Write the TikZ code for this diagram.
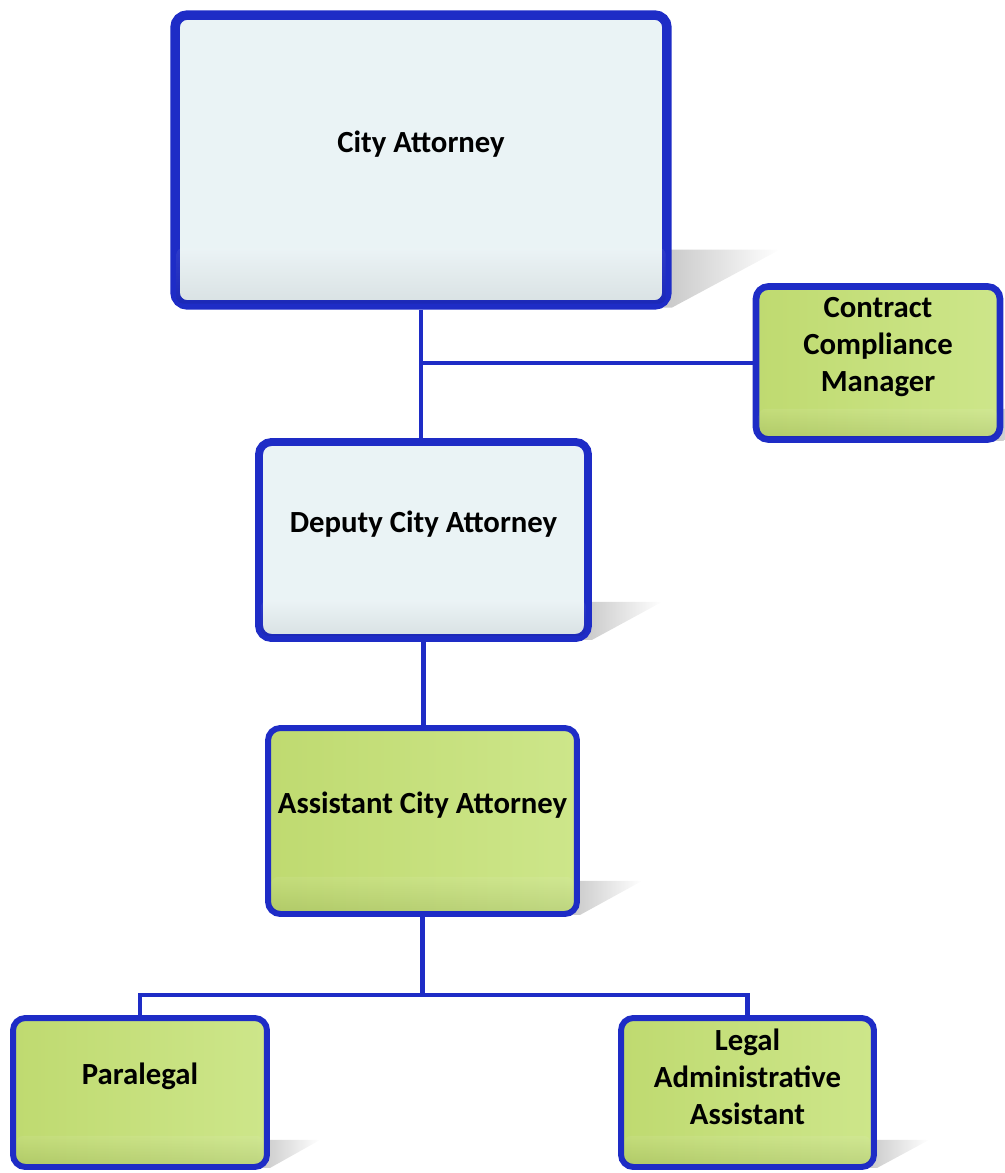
\documentclass[tikz,border=0pt]{standalone}
\usepackage{fontspec}
\setmainfont{Carlito}
\usetikzlibrary{calc,positioning}

\definecolor{cBoxBlue}{HTML}{1E2CC6}
\definecolor{cPaleFill}{HTML}{EAF3F5}
\definecolor{cGreenDark}{HTML}{BFDA70}
\definecolor{cGreenLight}{HTML}{CDE68A}

\pgfdeclarelayer{background}
\pgfsetlayers{background,main}

\tikzset{
    orgbox/.style={draw=cBoxBlue, rounded corners=7, inner sep=0pt},
    palebox/.style={orgbox, fill=cPaleFill},
    greenbox/.style={orgbox, left color=cGreenDark, right color=cGreenLight},
    boxtext/.style={font=\fontsize{17.5}{21}\selectfont\bfseries, align=center, inner sep=0pt},
    linkline/.style={draw=cBoxBlue, line width=2.8pt}
}

\begin{document}
\begin{tikzpicture}[x=0.02cm, y=-0.02cm]

    \useasboundingbox (0,0) rectangle (1004,1173);
    \clip (0,0) rectangle (1004,1173);

    % boxes
    \node[palebox, line width=5.4pt, minimum width=9.84cm, minimum height=5.8cm] (ca) at (421,160) {};
    \node[greenbox, line width=3.8pt, minimum width=4.88cm, minimum height=3.06cm] (ccm) at (878,363) {};
    \node[palebox, line width=4.5pt, minimum width=6.58cm, minimum height=3.92cm] (dca) at (423.5,540) {};
    \node[greenbox, line width=3.4pt, minimum width=6.18cm, minimum height=3.72cm] (aca) at (422.5,821) {};
    \node[greenbox, line width=3.4pt, minimum width=5.08cm, minimum height=2.98cm] (para) at (140,1092.5) {};
    \node[greenbox, line width=3.4pt, minimum width=5.06cm, minimum height=2.98cm] (laa) at (747.5,1092.5) {};

    % darker band at the foot of each box
    \foreach \v/\dd in {ca/62, dca/42, ccm/34, aca/40, para/34, laa/34}
    {
        \shade[top color=white, bottom color=black, opacity=0.07, rounded corners=4]
            ($(\v.south west)+(6,-\dd)$) rectangle ($(\v.south east)+(-6,-6)$);
    };

    % texts, a little above the middle
    \node[boxtext] (caText) at ([yshift=9pt]ca.center) {City Attorney};
    \node[boxtext] (ccmText) at ([yshift=9pt]ccm.center) {Contract\\Compliance\\Manager};
    \node[boxtext] (dcaText) at ([yshift=9pt]dca.center) {Deputy City Attorney};
    \node[boxtext] (acaText) at ([yshift=9pt]aca.center) {Assistant City Attorney};
    \node[boxtext] (paraText) at ([yshift=9pt]para.center) {Paralegal};
    \node[boxtext] (laaText) at ([yshift=9pt]laa.center) {Legal\\Administrative\\Assistant};

    \begin{pgfonlayer}{background}
        % shadows
        \foreach \v/\dd/\rr in {ca/60/108, dca/40/70, ccm/34/50, aca/36/62, para/30/50, laa/30/52}
        {
            \shade[left color=gray!45, right color=white]
                ($(\v.south east)+(-12,-\dd)$) -- ($(\v.south east)+(\rr,-\dd)$)
                -- ($(\v.south east)+(0,-2)$) -- ($(\v.south east)+(-12,-2)$) -- cycle;
        };

        % connectors
        \coordinate (cBusPt) at (422.5,995);
        \draw[linkline] (ca.south) -- (ca.south |- dca.north);
        \draw[linkline] (ccm.west) -- (ccm.west -| ca.south);
        \draw[linkline] (dca.south) -- (dca.south |- aca.north);
        \draw[linkline] (aca.south) -- (aca.south |- cBusPt);
        \draw[linkline] (para.north) |- (cBusPt) -| (laa.north);
    \end{pgfonlayer}

\end{tikzpicture}
\end{document}
